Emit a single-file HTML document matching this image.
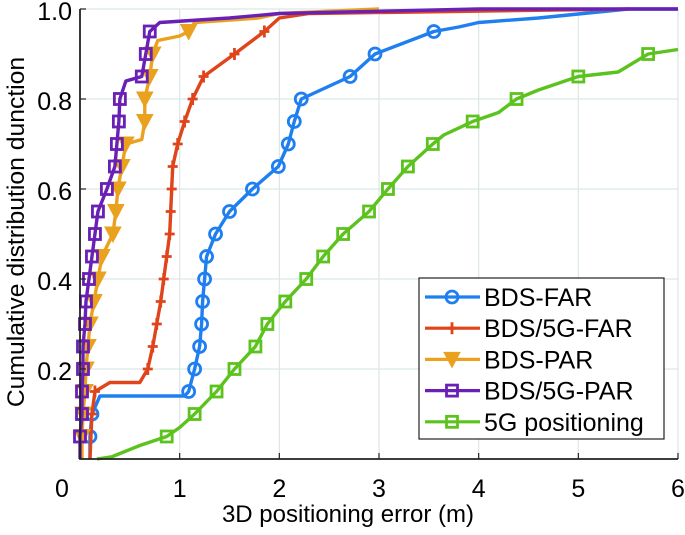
<!DOCTYPE html>
<html><head><meta charset="utf-8"><style>
body{margin:0;background:#fff;width:685px;height:530px;overflow:hidden}
svg text{font-family:"Liberation Sans",sans-serif;fill:#000}
</style></head><body>
<svg id="c" width="685" height="530"></svg>
<script>
const xTicks=[0,1,2,3,4,5,6];
const yTicks=[0.2,0.4,0.6,0.8,1.0];
const seriesNames=["BDS-FAR","BDS/5G-FAR","BDS-PAR","BDS/5G-PAR","5G positioning"];
const farX=[0.1,0.1,0.12,0.2,1.05,1.09,1.15,1.2,1.22,1.23,1.25,1.27,1.36,1.5,1.73,1.99,2.09,2.15,2.22,2.71,2.96,3.55,3.8,4.0,4.6,5.5,6];
const farY=[0,0.05,0.1,0.14,0.14,0.15,0.2,0.25,0.3,0.35,0.4,0.45,0.5,0.55,0.6,0.65,0.7,0.75,0.8,0.85,0.9,0.95,0.96,0.97,0.98,1.0,1.0];
const f5X=[0.1,0.12,0.15,0.3,0.6,0.68,0.73,0.77,0.81,0.84,0.87,0.9,0.91,0.92,0.93,0.98,1.05,1.13,1.24,1.55,1.85,2.0,2.3,5.5];
const f5Y=[0,0.1,0.15,0.17,0.17,0.2,0.25,0.3,0.35,0.4,0.45,0.5,0.55,0.6,0.65,0.7,0.75,0.8,0.85,0.9,0.95,0.98,0.99,1.0];
const parX=[0.02,0.02,0.03,0.05,0.06,0.08,0.1,0.14,0.18,0.22,0.33,0.36,0.38,0.42,0.46,0.62,0.65,0.65,0.7,0.73,0.78,1.0,1.09,1.15,1.79,2.0,3.0];
const parY=[0,0.05,0.1,0.15,0.2,0.25,0.3,0.35,0.4,0.45,0.5,0.55,0.6,0.65,0.7,0.71,0.75,0.8,0.85,0.9,0.93,0.94,0.95,0.97,0.98,0.99,1.0];
const p5X=[0.0,0.0,0.02,0.02,0.03,0.03,0.05,0.06,0.09,0.12,0.15,0.18,0.27,0.35,0.37,0.39,0.4,0.46,0.62,0.66,0.7,0.8,1.5,2.0,4.0,6.0];
const p5Y=[0,0.05,0.1,0.15,0.2,0.25,0.3,0.35,0.4,0.45,0.5,0.55,0.6,0.65,0.7,0.75,0.8,0.84,0.85,0.9,0.95,0.97,0.98,0.99,1.0,1.0];
const g5X=[0.17,0.32,0.6,0.87,1.0,1.15,1.37,1.55,1.76,1.88,2.06,2.27,2.44,2.64,2.9,3.09,3.29,3.54,3.65,3.94,4.2,4.38,4.6,5.0,5.4,5.7,6.0];
const g5Y=[0,0.005,0.03,0.05,0.07,0.1,0.15,0.2,0.25,0.3,0.35,0.4,0.45,0.5,0.55,0.6,0.65,0.7,0.72,0.75,0.77,0.8,0.82,0.85,0.86,0.9,0.91];
const colors=["#1f7ff0","#e0441a","#eaa21e","#6a1fb5","#5cc31e"];
const markers=["circle","plus","tri","square","square"];
const X0=80,X1=678,Y0=459,Y1=9;
const sx=v=>X0+(X1-X0)*v/6, sy=v=>Y0-(Y0-Y1)*v;
const svg=document.getElementById('c');const NS="http://www.w3.org/2000/svg";
function mk(t,a,p){const e=document.createElementNS(NS,t);for(const k in a)e.setAttribute(k,a[k]);(p||svg).appendChild(e);return e;}
xTicks.forEach(t=>{if(t>0){const l=mk('line',{x1:sx(t),x2:sx(t),y1:Y1,y2:Y0,stroke:'#dce6e6','stroke-width':1.2});

}});
yTicks.forEach(t=>{const l=mk('line',{x1:X0,x2:X1,y1:sy(t),y2:sy(t),stroke:'#dce6e6','stroke-width':1.2});

});
function marker(type,x,y,c,g){
 if(type=='circle')mk('circle',{cx:x,cy:y,r:6,fill:'none',stroke:c,'stroke-width':2.8},g);
 else if(type=='plus'){mk('path',{d:`M${x-5},${y}H${x+5}M${x},${y-6}V${y+6}`,stroke:c,'stroke-width':2.8},g);}
 else if(type=='tri')mk('path',{d:`M${x-8},${y-7}L${x+8},${y-7}L${x},${y+8}Z`,fill:c,stroke:c,'stroke-width':1},g);
 else mk('rect',{x:x-5.5,y:y-5.5,width:11,height:11,fill:'none',stroke:c,'stroke-width':2.8},g);
}
const all=[[farX,farY],[f5X,f5Y],[parX,parY],[p5X,p5Y],[g5X,g5Y]];
const seriesKeys=["bds-far","bds-5g-far","bds-par","bds-5g-par","5g-positioning"];
all.forEach((s,i)=>{
 const g=mk('g',{});
 
 
 mk('polyline',{points:s[0].map((x,j)=>sx(x)+','+sy(s[1][j])).join(' '),fill:'none',stroke:colors[i],'stroke-width':3.4,'stroke-linejoin':'round'},g);
 s[0].forEach((x,j)=>{const y=s[1][j];const r=Math.round(y*20);
  if(y>0.01&&Math.abs(y*20-r)<0.001&&!(r==20)&&!(i==4&&y<0.05)){
   const prev=j>0&&Math.abs(s[1][j-1]-y)<1e-6;
   if(!prev)marker(markers[i],sx(x),sy(y),colors[i],g);}});
});
const ax=mk('path',{d:`M${X0},${Y1}V${Y0}H${X1}`,fill:'none',stroke:'#222','stroke-width':1.8});


xTicks.forEach(t=>{mk('line',{x1:sx(t),x2:sx(t),y1:Y0,y2:Y0-6,stroke:'#222','stroke-width':1.2});
 const tx=mk('text',{x:t==0?62:sx(t),y:497,'font-size':25,'text-anchor':'middle'});tx.textContent=t;
 
 });
yTicks.forEach(t=>{mk('line',{x1:X0,x2:X0+6,y1:sy(t),y2:sy(t),stroke:'#222','stroke-width':1.2});
 const tx=mk('text',{x:72,y:sy(t)+11,'font-size':25,'text-anchor':'end'});tx.textContent=t.toFixed(1);
 
 });
const lg=mk('g',{});


mk('rect',{x:419,y:278,width:245,height:161,fill:'#fff',stroke:'#222','stroke-width':1.2},lg);
seriesNames.forEach((n,i)=>{const y=297+i*31.2;
 const e=mk('g',{},lg);
 
 
 mk('line',{x1:425,x2:480,y1:y,y2:y,stroke:colors[i],'stroke-width':3.2},e);
 marker(markers[i],452,y,colors[i],e);
 const t=mk('text',{x:484,y:y+9,'font-size':25},e);t.textContent=n;});
const xt=mk('text',{x:348,y:522,'font-size':24,'text-anchor':'middle'});xt.textContent='3D positioning error (m)';


const yt=mk('text',{x:0,y:0,'font-size':24,'text-anchor':'middle',transform:'translate(24,232) rotate(-90) scale(1.03,1)'});yt.textContent='Cumulative distribution dunction';


</script>
</body></html>
